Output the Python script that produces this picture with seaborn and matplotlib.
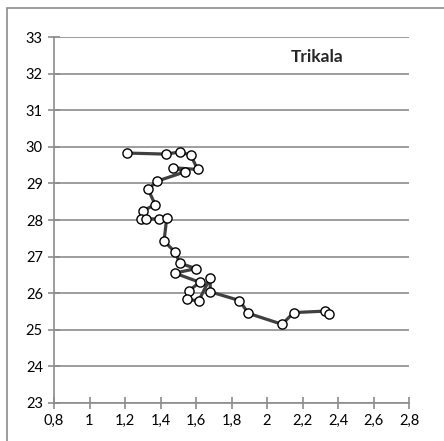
import numpy as np
import pandas as pd
import matplotlib
matplotlib.use("Agg")
import matplotlib.pyplot as plt
import seaborn as sns
from matplotlib.ticker import MultipleLocator, FuncFormatter
from matplotlib.patches import Rectangle

# values, in path order
x_vals = [1.21, 1.43, 1.51, 1.57, 1.61, 1.47, 1.54, 1.38, 1.33, 1.37,
          1.30, 1.29, 1.32, 1.39, 1.435, 1.42, 1.48, 1.51, 1.60, 1.48,
          1.62, 1.56, 1.55, 1.615, 1.68, 1.68, 1.845, 1.895, 2.085, 2.15,
          2.325, 2.35]
y_vals = [29.83, 29.80, 29.86, 29.77, 29.38, 29.43, 29.32, 29.06, 28.84, 28.42,
          28.25, 28.02, 28.03, 28.03, 28.05, 27.43, 27.13, 26.82, 26.67, 26.55,
          26.30, 26.06, 25.83, 25.79, 26.42, 26.04, 25.80, 25.45, 25.15, 25.47,
          25.51, 25.42]
title = "Trikala"

df = pd.DataFrame({"x": x_vals, "y": y_vals, "step": range(len(x_vals))})

sns.set_style("white")
plt.rcParams["font.family"] = ["Lato", "DejaVu Sans"]

fig = plt.figure(figsize=(4.44, 4.41), dpi=100)
ax = fig.add_axes([54 / 444, 1 - 403 / 441, 355 / 444, 366 / 441])

# outer chart frame (only left/top edge visible in the reference)
fig.patches.append(Rectangle((7 / 444, -0.1), 1.2, 1 - 8 / 441 + 0.1,
                             transform=fig.transFigure, fill=False,
                             edgecolor="#8c8c8c", linewidth=1.2))

ax.set_xlim(0.8, 2.8)
ax.set_ylim(23, 33)
ax.yaxis.set_major_locator(MultipleLocator(1))
ax.yaxis.set_minor_locator(MultipleLocator(0.5))
ax.xaxis.set_major_locator(MultipleLocator(0.2))
ax.xaxis.set_minor_locator(MultipleLocator(0.1))
ax.xaxis.set_major_formatter(FuncFormatter(lambda v, p: f"{v:g}".replace(".", ",")))

ax.grid(axis="y", which="major", color="#8c8c8c", linewidth=1.2)
ax.grid(axis="x", visible=False)
ax.set_axisbelow(True)

for s in ["top", "right"]:
    ax.spines[s].set_visible(False)
for s in ["left", "bottom"]:
    ax.spines[s].set_color("#8c8c8c")
    ax.spines[s].set_linewidth(1.2)

ax.tick_params(which="both", direction="inout", color="#8c8c8c", width=1.2,
               labelsize=10.5, labelcolor="black")
ax.tick_params(which="major", length=8, pad=4)
ax.tick_params(which="minor", length=5)
ax.tick_params(axis="y", left=True)
ax.tick_params(axis="x", bottom=True)

sns.lineplot(data=df, x="x", y="y", sort=False, estimator=None, ax=ax,
             color="#404040", linewidth=2.3, marker="o", markersize=6.6,
             markerfacecolor="white", markeredgecolor="black",
             markeredgewidth=1.0)

ax.set_xlabel("")
ax.set_ylabel("")
ax.text(0.741, 0.945, title, transform=ax.transAxes, ha="center", va="center",
        fontsize=12.5, fontweight="bold")

fig.savefig("out.png", dpi=100)
